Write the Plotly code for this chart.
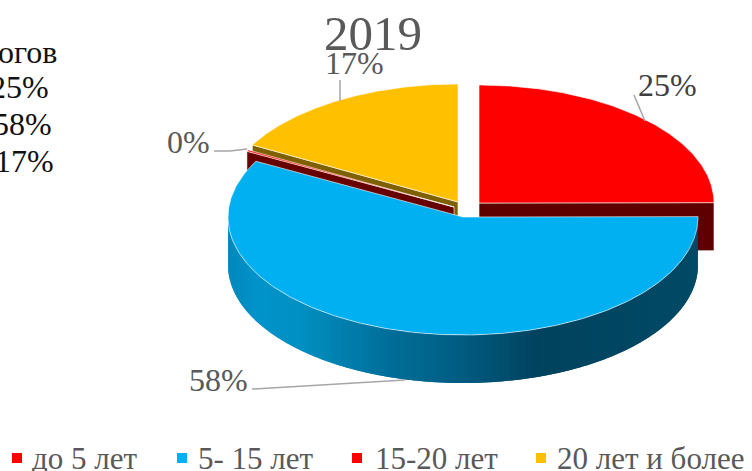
import numpy as np
import plotly.graph_objects as go

title = "2019"
categories = ["до 5 лет", "5- 15 лет", "15-20 лет", "20 лет и более"]
values = [25, 58, 0.2, 17]
percent_labels = ["25%", "58%", "0%", "17%"]
colors = ["#FF0000", "#00B0F0", "#FF0000", "#FFC000"]
side_colors = ["#5E0000", "#00506E", "#660000", "#7F6000"]
left_lines = ["огов", "25%", "58%", "17%"]

# pie geometry (pixel-like axis units)
RX, RY, DEPTH = 235.0, 118.0, 48.0
CENTERS = [(479, 203), (463, 217), (454, 207), (458, 202)]
SERIF = "Liberation Serif"
GREY = "#595959"

total = sum(values)
spans = [v / total * 2 * np.pi for v in values]
starts = np.cumsum([0] + spans[:-1])


def rim(i, a):
    cx, cy = CENTERS[i]
    return cx + RX * np.sin(a), cy - RY * np.cos(a)


def poly(x, y, fill, line="rgba(255,255,255,0.6)", w=1.0):
    return go.Scatter(x=list(x), y=list(y), mode="lines", fill="toself", fillcolor=fill,
                      line=dict(color=line, width=w), hoverinfo="skip", showlegend=False)


def top(i):
    a = np.linspace(starts[i], starts[i] + spans[i], 240)
    x, y = rim(i, a)
    cx, cy = CENTERS[i]
    return poly(np.r_[cx, x, cx], np.r_[cy, y, cy], colors[i])


def radial_wall(i, a, color):
    cx, cy = CENTERS[i]
    x, y = rim(i, a)
    return poly([cx, x, x, cx, cx], [cy, y, y + DEPTH, cy + DEPTH, cy], color)


def lerp_hex(stops, t):
    ts = [s[0] for s in stops]
    ch = [np.interp(t, ts, [int(s[1][k:k + 2], 16) for s in stops]) for k in (1, 3, 5)]
    return "rgb(%d,%d,%d)" % tuple(ch)


fig = go.Figure()

# red slice: cut wall then top
fig.add_trace(radial_wall(0, starts[0] + spans[0], side_colors[0]))
fig.add_trace(top(0))

# yellow slice
fig.add_trace(radial_wall(3, starts[3], side_colors[3]))
fig.add_trace(top(3))

# near-zero slice
fig.add_trace(radial_wall(2, starts[2], side_colors[2]))
fig.add_trace(top(2))

# blue outer wall with horizontal gradient (overlapping strips), then its top
stops = [(0.0, "#0088BA"), (0.06, "#0094CB"), (0.155, "#0090C2"), (0.34, "#006F9A"),
         (0.48, "#005F85"), (0.66, "#00435E"), (0.98, "#004A66")]
a_blue = np.linspace(1.5 * np.pi, np.pi / 2, 141)
x_left = CENTERS[1][0] - RX
for k in range(len(a_blue) - 1):
    seg = a_blue[k:k + 3]
    seg = np.linspace(seg[0], seg[-1], 4)
    x, y = rim(1, seg)
    t = (x[0] + (rim(1, a_blue[k + 1])[0] - x[0]) / 2 - x_left) / (2 * RX)
    col = lerp_hex(stops, t)
    fig.add_trace(go.Scatter(x=np.r_[x, x[::-1], x[0]], y=np.r_[y, y[::-1] + DEPTH, y[0]], mode="none",
                             fill="toself", fillcolor=col, hoverinfo="skip", showlegend=False))
fig.add_trace(top(1))

# leader lines
leaders = [([634, 645], [95, 121]), ([340, 340], [80, 101]),
           ([214, 230, 247], [151, 151, 149]), ([252, 405], [389, 380])]
for lx, ly in leaders:
    fig.add_trace(go.Scatter(x=lx, y=ly, mode="lines", line=dict(color="#A6A6A6", width=1.5),
                             hoverinfo="skip", showlegend=False))

# legend swatches
legend_x = [17, 182, 357, 541]
text_x = [30, 196, 373, 555]
fig.add_trace(go.Scatter(x=legend_x, y=[458] * 4, mode="markers", showlegend=False, hoverinfo="skip",
                         marker=dict(symbol="square", size=10, color=colors)))

ann = []


def label(x, y, text, size, color=GREY, anchor="center"):
    ann.append(dict(x=x, y=y, xref="x", yref="y", text=text, showarrow=False, xanchor=anchor, yanchor="middle",
                    font=dict(family=SERIF, size=size, color=color)))


label(373, 33, title, 49)
label(354, 63, percent_labels[3], 32)
label(667, 85, percent_labels[0], 32, "#404040")
label(188, 142, percent_labels[2], 32)
label(218, 380, percent_labels[1], 32)
for t, yy, xr in zip(left_lines, [52, 87, 124, 161], [59, 51, 54, 56]):
    label(xr, yy, t, 32, "#111111", "right")
for t, xx in zip(categories, text_x):
    label(xx, 458, t, 31, GREY, "left")

fig.update_layout(
    width=752, height=471, margin=dict(l=0, r=0, t=0, b=0),
    paper_bgcolor="white", plot_bgcolor="white", showlegend=False, annotations=ann,
    xaxis=dict(range=[0, 752], visible=False, fixedrange=True),
    yaxis=dict(range=[471, 0], visible=False, fixedrange=True),
)
fig.write_html("out.html", config=dict(displayModeBar=False),
               post_script="document.body.style.margin='0';")
